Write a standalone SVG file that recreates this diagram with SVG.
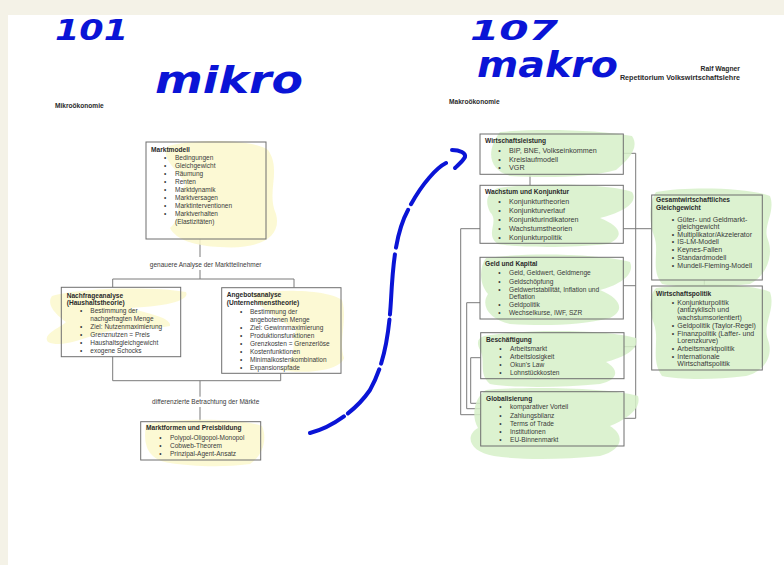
<svg xmlns="http://www.w3.org/2000/svg" width="784" height="565" viewBox="0 0 784 565">
<defs>
<style>
text{font-family:"Liberation Sans",Arial,sans-serif;fill:#3a3a3a}
.t{font-size:6.5px}
.tb{font-size:6.6px;font-weight:bold;fill:#2a2a2a}
.r7{font-size:7.2px}
.r6{font-size:6.6px}
.r70{font-size:7px}
.lbl{font-size:6.5px;text-anchor:middle}
.hd{font-size:6.6px;font-weight:bold;fill:#2a2a2a}
.box{fill:none;stroke:#6e6e6e;stroke-width:1}
.bg{fill:#ffffff}
.y{fill:#fbf8cc;opacity:0.85}
.g{fill:#d6f0c8;opacity:0.85}
.con{fill:none;stroke:#7a7a7a;stroke-width:1}
.hw{font-family:"DejaVu Sans",sans-serif;font-weight:bold;font-style:oblique;fill:#0a14d6}
.ink{fill:none;stroke:#0a14d6;stroke-width:4;stroke-linecap:round;stroke-linejoin:round}
</style>
</defs>
<rect x="0" y="0" width="784" height="565" fill="#f4f2e7"/>
<rect x="8" y="15" width="776" height="550" fill="#ffffff"/>

<g id="header">
<text class="hd" x="55" y="107.5">Mikroökonomie</text>
<text class="hd" x="449" y="104">Makroökonomie</text>
<text class="hd" x="740" y="70.5" text-anchor="end" style="font-size:6.8px">Ralf Wagner</text>
<text class="hd" x="740" y="79.5" text-anchor="end" style="font-size:7.2px">Repetitorium Volkswirtschaftslehre</text>
</g>

<g id="handwriting">
<text class="hw" x="55" y="40" font-size="28" textLength="73" lengthAdjust="spacingAndGlyphs">101</text>
<text class="hw" x="155" y="93" font-size="38" textLength="148" lengthAdjust="spacingAndGlyphs">mikro</text>
<text class="hw" x="470" y="40" font-size="26" textLength="88" lengthAdjust="spacingAndGlyphs">107</text>
<text class="hw" x="477" y="77" font-size="35" textLength="141" lengthAdjust="spacingAndGlyphs">makro</text>
</g>

<g id="connectors">
<path class="con" d="M200,239V257M200,270V279M112.7,279H294M112.7,279V287.3M294,279V287.7"/>
<path class="con" d="M112.7,356.7V380.7M280.7,373.3V380.7M112.7,380.7H280.7M200,380.7V396.7M200,407V421.7"/>
<path class="con" d="M530,174.3V185.3M480,228.7H460.7V414.7H480.7M480,302.7H466.7V408.7H480.7M480.7,357.7H470.7V403.3H480.7"/>
<path class="con" d="M623.3,153.3H635.7V418.3H624M623.3,285.7H635.7M624,346.7H635.7M623.3,228.7H651.7M704.3,280V286"/>
<text class="lbl" x="205.7" y="267">genauere Analyse der Marktteilnehmer</text>
<text class="lbl" x="205.7" y="404.3">differenzierte Betrachtung der Märkte</text>
</g>

<g id="marktmodell">
<rect class="bg" x="146" y="142" width="120" height="97"/>
<path class="y" d="M168,146C200,138 255,140 268,150C282,170 266,192 276,214C282,236 262,250 220,247C196,246 176,240 170,228C185,215 172,198 186,184C176,168 160,158 168,146Z"/>
<rect class="box" x="146" y="142" width="120" height="97"/>
<text class="tb" x="151" y="152.3">Marktmodell</text>
<g class="t">
<text x="164" y="160">•</text><text x="175" y="160">Bedingungen</text>
<text x="164" y="168">•</text><text x="175" y="168">Gleichgewicht</text>
<text x="164" y="176">•</text><text x="175" y="176">Räumung</text>
<text x="164" y="184">•</text><text x="175" y="184">Renten</text>
<text x="164" y="192">•</text><text x="175" y="192">Marktdynamik</text>
<text x="164" y="200">•</text><text x="175" y="200">Marktversagen</text>
<text x="164" y="208">•</text><text x="175" y="208">Marktinterventionen</text>
<text x="164" y="216">•</text><text x="175" y="216">Marktverhalten</text>
<text x="175" y="224">(Elastizitäten)</text>
</g>
</g>

<g id="nachfrage">
<rect class="bg" x="61.3" y="287.3" width="119.4" height="69.4"/>
<path class="y" d="M52,296C80,288 150,286 186,292C190,300 170,306 130,308C150,314 172,318 170,326C150,330 120,328 100,333C80,340 60,348 48,342C42,334 60,328 66,322C55,314 46,304 52,296Z"/>
<rect class="box" x="61.3" y="287.3" width="119.4" height="69.4"/>
<text class="tb" x="66.7" y="298">Nachfrageanalyse</text>
<text class="tb" x="66.7" y="305">(Haushaltstheorie)</text>
<g class="t">
<text x="80" y="313">•</text><text x="90.3" y="313">Bestimmung der</text>
<text x="90.3" y="321">nachgefragten Menge</text>
<text x="80" y="329">•</text><text x="90.3" y="329">Ziel: Nutzenmaximierung</text>
<text x="80" y="337">•</text><text x="90.3" y="337">Grenznutzen = Preis</text>
<text x="80" y="345">•</text><text x="90.3" y="345">Haushaltsgleichgewicht</text>
<text x="80" y="353">•</text><text x="90.3" y="353">exogene Schocks</text>
</g>
</g>

<g id="angebot">
<rect class="bg" x="221.7" y="287.7" width="119.3" height="85.6"/>
<path class="y" d="M250,294C280,288 330,290 342,300C348,320 338,340 344,358C340,372 300,374 280,370C300,360 290,345 296,330C280,320 262,310 250,294Z"/>
<rect class="box" x="221.7" y="287.7" width="119.3" height="85.6"/>
<text class="tb" x="226.7" y="296.6">Angebotsanalyse</text>
<text class="tb" x="226.7" y="305">(Unternehmenstheorie)</text>
<g class="t">
<text x="240" y="313.6">•</text><text x="250" y="313.6">Bestimmung der</text>
<text x="250" y="321.6">angebotenen Menge</text>
<text x="240" y="329.6">•</text><text x="250" y="329.6">Ziel: Gewinnmaximierung</text>
<text x="240" y="337.6">•</text><text x="250" y="337.6">Produktionsfunktionen</text>
<text x="240" y="345.6">•</text><text x="250" y="345.6">Grenzkosten = Grenzerlöse</text>
<text x="240" y="353.6">•</text><text x="250" y="353.6">Kostenfunktionen</text>
<text x="240" y="361.6">•</text><text x="250" y="361.6">Minimalkostenkombination</text>
<text x="240" y="369.6">•</text><text x="250" y="369.6">Expansionspfade</text>
</g>
</g>

<g id="marktformen">
<rect class="bg" x="140.7" y="421.7" width="120" height="38.3"/>
<path class="y" d="M146,424C180,418 240,418 262,426C268,440 262,456 250,464C220,468 190,466 170,463C150,460 142,448 146,424Z"/>
<rect class="box" x="140.7" y="421.7" width="120" height="38.3"/>
<text class="tb" x="146" y="430">Marktformen und Preisbildung</text>
<g class="t">
<text x="159.3" y="439.6">•</text><text x="170" y="439.6">Polypol-Oligopol-Monopol</text>
<text x="159.3" y="447.6">•</text><text x="170" y="447.6">Cobweb-Theorem</text>
<text x="159.3" y="455.6">•</text><text x="170" y="455.6">Prinzipal-Agent-Ansatz</text>
</g>
</g>

<g id="wirtschaftsleistung">
<rect class="bg" x="480" y="134" width="143.3" height="40.3"/>
<path class="g" d="M500,132C540,128 600,130 632,136C640,148 628,160 616,170C590,178 540,178 510,176C488,170 486,150 500,132Z"/>
<rect class="box" x="480" y="134" width="143.3" height="40.3"/>
<text class="tb" x="485" y="143.3">Wirtschaftsleistung</text>
<g class="r7">
<text x="498.3" y="153">•</text><text x="509" y="153">BIP, BNE, Volkseinkommen</text>
<text x="498.3" y="161.6">•</text><text x="509" y="161.6">Kreislaufmodell</text>
<text x="498.3" y="170.3">•</text><text x="509" y="170.3">VGR</text>
</g>
</g>

<g id="wachstum">
<rect class="bg" x="480" y="185.3" width="143.3" height="58"/>
<path class="g" d="M498,188C540,182 610,184 632,192C640,204 618,214 600,218C620,226 626,236 608,244C570,248 520,248 498,244C484,234 500,222 490,212C484,200 488,192 498,188Z"/>
<rect class="box" x="480" y="185.3" width="143.3" height="58"/>
<text class="tb" x="485" y="194">Wachstum und Konjunktur</text>
<g class="r7">
<text x="498.3" y="204">•</text><text x="509" y="204">Konjunkturtheorien</text>
<text x="498.3" y="212.6">•</text><text x="509" y="212.6">Konjunkturverlauf</text>
<text x="498.3" y="221.6">•</text><text x="509" y="221.6">Konjunkturindikatoren</text>
<text x="498.3" y="230.6">•</text><text x="509" y="230.6">Wachstumstheorien</text>
<text x="498.3" y="239.6">•</text><text x="509" y="239.6">Konjunkturpolitik</text>
</g>
</g>

<g id="geld">
<rect class="bg" x="480" y="257.3" width="143.3" height="61.7"/>
<path class="g" d="M486,258C530,252 600,254 630,262C636,276 616,286 600,290C620,298 626,310 610,318C580,326 540,326 510,324C490,320 480,306 488,294C478,282 480,266 486,258Z"/>
<rect class="box" x="480" y="257.3" width="143.3" height="61.7"/>
<text class="tb" x="485" y="266.3">Geld und Kapital</text>
<g class="r6">
<text x="498.3" y="275.3">•</text><text x="509" y="275.3">Geld, Geldwert, Geldmenge</text>
<text x="498.3" y="283.6">•</text><text x="509" y="283.6">Geldschöpfung</text>
<text x="498.3" y="291.6">•</text><text x="509" y="291.6">Geldwertstabilität, Inflation und</text>
<text x="509" y="299">Deflation</text>
<text x="498.3" y="307">•</text><text x="509" y="307">Geldpolitik</text>
<text x="498.3" y="315">•</text><text x="509" y="315">Wechselkurse, IWF, SZR</text>
</g>
</g>

<g id="beschaeftigung">
<rect class="bg" x="480.7" y="332.7" width="143.3" height="46"/>
<path class="g" d="M484,336C530,328 610,330 636,338C640,350 622,358 606,362C620,370 618,380 600,384C560,388 510,388 490,384C478,374 486,360 480,350C476,342 478,338 484,336Z"/>
<rect class="box" x="480.7" y="332.7" width="143.3" height="46"/>
<text class="tb" x="486" y="342">Beschäftigung</text>
<g class="r6">
<text x="499.3" y="351">•</text><text x="510" y="351">Arbeitsmarkt</text>
<text x="499.3" y="359">•</text><text x="510" y="359">Arbeitslosigkeit</text>
<text x="499.3" y="367">•</text><text x="510" y="367">Okun's Law</text>
<text x="499.3" y="375">•</text><text x="510" y="375">Lohnstückkosten</text>
</g>
</g>

<g id="globalisierung">
<rect class="bg" x="480.7" y="391.7" width="143.3" height="54.3"/>
<path class="g" d="M486,390C530,386 610,388 638,396C642,410 624,420 610,426C626,436 622,450 600,456C560,460 520,460 494,456C470,452 464,436 478,428C470,414 476,396 486,390Z"/>
<rect class="box" x="480.7" y="391.7" width="143.3" height="54.3"/>
<text class="tb" x="486" y="400.6">Globalisierung</text>
<g class="r6">
<text x="499.3" y="409.3">•</text><text x="510" y="409.3">komparativer Vorteil</text>
<text x="499.3" y="417.6">•</text><text x="510" y="417.6">Zahlungsbilanz</text>
<text x="499.3" y="426.3">•</text><text x="510" y="426.3">Terms of Trade</text>
<text x="499.3" y="434.3">•</text><text x="510" y="434.3">Institutionen</text>
<text x="499.3" y="442.3">•</text><text x="510" y="442.3">EU-Binnenmarkt</text>
</g>
</g>

<g id="gesamtwirtschaftliches-gleichgewicht">
<rect class="bg" x="651.7" y="195" width="110.6" height="85"/>
<path class="g" d="M656,192C690,186 750,188 770,196C776,212 762,226 768,240C774,256 766,276 750,284C720,288 680,288 662,284C650,270 660,250 654,236C648,220 650,200 656,192Z"/>
<rect class="box" x="651.7" y="195" width="110.6" height="85"/>
<text class="tb" x="656" y="201.6">Gesamtwirtschaftliches</text>
<text class="tb" x="656" y="209.6">Gleichgewicht</text>
<g class="r70">
<text x="671.7" y="221.6">•</text><text x="677.3" y="221.6">Güter- und Geldmarkt-</text>
<text x="677.3" y="229">gleichgewicht</text>
<text x="671.7" y="236.6">•</text><text x="677.3" y="236.6">Multiplikator/Akzelerator</text>
<text x="671.7" y="244.3">•</text><text x="677.3" y="244.3">IS-LM-Modell</text>
<text x="671.7" y="252.3">•</text><text x="677.3" y="252.3">Keynes-Fallen</text>
<text x="671.7" y="260">•</text><text x="677.3" y="260">Standardmodell</text>
<text x="671.7" y="267.6">•</text><text x="677.3" y="267.6">Mundell-Fleming-Modell</text>
</g>
</g>

<g id="wirtschaftspolitik">
<rect class="bg" x="651.7" y="286" width="110.6" height="84"/>
<path class="g" d="M656,288C700,282 752,284 770,292C776,310 762,324 768,340C774,356 764,372 746,376C716,380 680,380 662,376C650,360 660,340 654,324C648,308 650,294 656,288Z"/>
<rect class="box" x="651.7" y="286" width="110.6" height="84"/>
<text class="tb" x="656" y="295.6">Wirtschaftspolitik</text>
<g class="r70">
<text x="671.7" y="305">•</text><text x="677.3" y="305">Konjunkturpolitik</text>
<text x="677.3" y="312.3">(antizyklisch und</text>
<text x="677.3" y="319.6">wachstumsorientiert)</text>
<text x="671.7" y="327.6">•</text><text x="677.3" y="327.6">Geldpolitik (Taylor-Regel)</text>
<text x="671.7" y="335.6">•</text><text x="677.3" y="335.6">Finanzpolitik (Laffer- und</text>
<text x="677.3" y="343">Lorenzkurve)</text>
<text x="671.7" y="351">•</text><text x="677.3" y="351">Arbeitsmarktpolitik</text>
<text x="671.7" y="359">•</text><text x="677.3" y="359">Internationale</text>
<text x="677.3" y="366.3">Wirtschaftspolitik</text>
</g>
</g>

<g id="ink-arrow">
<path class="ink" stroke-dasharray="38 5 55 6 45 5 60 7 40 6 200" d="M310,433C330,428 355,412 370,390C384,365 389,335 391,300C393,262 396,232 408,210C420,186 436,168 446,163"/>
<path class="ink" stroke-width="4.5" d="M452,150C460,150 466,153 465,157C463,161 458,165 455,168"/>
</g>
</svg>
